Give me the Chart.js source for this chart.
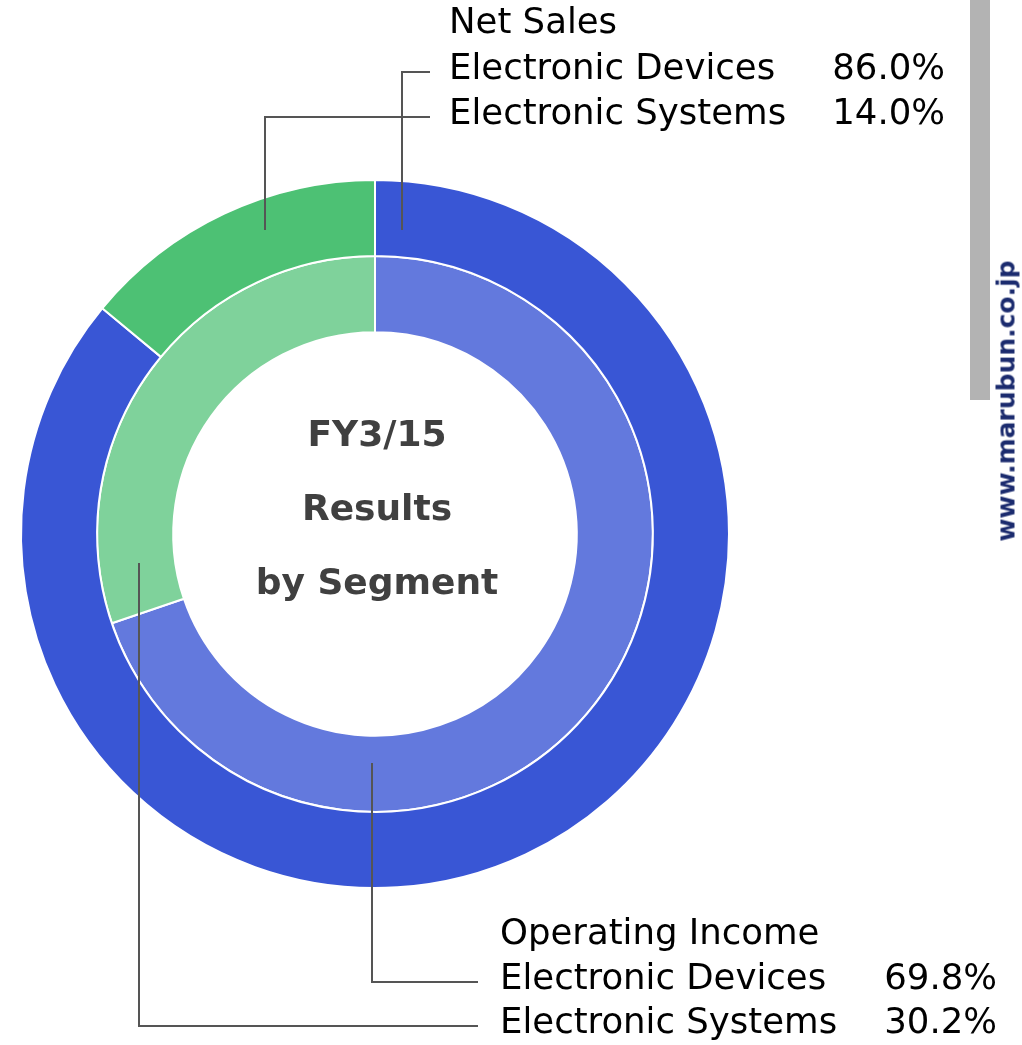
<!DOCTYPE html>
<html>
<head>
<meta charset="utf-8">
<script src="https://cdn.jsdelivr.net/npm/chart.js@4.4.1/dist/chart.umd.min.js"></script>
<style>
  html, body { margin: 0; padding: 0; background: #fff; }
  #wrap { position: relative; width: 1022px; height: 1045px; overflow: hidden; }
  #chart { position: absolute; left: 0; top: 0; }
  .bar { position: absolute; left: 970px; top: 0; width: 20px; height: 400px; background: #b3b3b3; }
  .site {
    position: absolute; left: 1006px; top: 401px;
    transform: translate(-50%, -50%) rotate(-90deg);
    font-family: 'DejaVu Sans', sans-serif; font-weight: bold; font-size: 25px;
    color: #1b2b6e; white-space: nowrap;
  }
</style>
</head>
<body>
<div id="wrap">
  <canvas id="chart" width="1022" height="1045"></canvas>
  <div class="bar"></div>
  <div class="site">www.marubun.co.jp</div>
</div>
<script>
// segments and shares (%)
const segments = ['Electronic Devices', 'Electronic Systems']
const netSales = [86.0, 14.0]
const operatingIncome = [69.8, 30.2]
const seriesNames = ['Net Sales', 'Operating Income']
const centerLines = ['FY3/15', 'Results', 'by Segment']

const outerColors = ['#3956d5', '#4dc174']
const innerColors = ['#6379dd', '#7fd29b']

const labelFont = "35.5px 'DejaVu Sans', sans-serif"

// callout blocks: where the text sits and the leader lines from each arc
const callouts = [
  {
    dataset: 0, title: seriesNames[0], values: netSales,
    textX: 449, pctRight: 945, rowY: [24, 70, 115],
    // leg: x offset from center of the vertical line, anchor y offset
    legs: [{ dx: 27, dy: -304 }, { dx: -110, dy: -304 }],
    lineEnd: 430,
  },
  {
    dataset: 1, title: seriesNames[1], values: operatingIncome,
    textX: 500, pctRight: 997, rowY: [935, 980, 1024],
    legs: [{ dx: -3, dy: 229 }, { dx: -236, dy: 29 }],
    lineEnd: 478,
  },
]

const calloutPlugin = {
  id: 'callouts',
  afterDraw(chart) {
    const ctx = chart.ctx
    const arc = chart.getDatasetMeta(0).data[0]
    const cx = arc.x
    const cy = arc.y

    ctx.save()
    // leader lines
    ctx.strokeStyle = '#555'
    ctx.lineWidth = 2
    callouts.forEach(c => {
      c.legs.forEach((leg, i) => {
        const y = c.rowY[i + 1] + 2
        ctx.beginPath()
        ctx.moveTo(cx + leg.dx, cy + leg.dy)
        ctx.lineTo(cx + leg.dx, y)
        ctx.lineTo(c.lineEnd, y)
        ctx.stroke()
      })
    })

    // texts
    ctx.fillStyle = '#000'
    ctx.font = labelFont
    ctx.textBaseline = 'middle'
    callouts.forEach(c => {
      ctx.textAlign = 'left'
      ctx.fillText(c.title, c.textX, c.rowY[0])
      segments.forEach((s, i) => {
        ctx.textAlign = 'left'
        ctx.fillText(s, c.textX, c.rowY[i + 1])
        ctx.textAlign = 'right'
        ctx.fillText(c.values[i].toFixed(1) + '%', c.pctRight, c.rowY[i + 1])
      })
    })

    // center title
    ctx.fillStyle = '#404040'
    ctx.font = "bold 36px 'DejaVu Sans', sans-serif"
    ctx.textAlign = 'center'
    centerLines.forEach((t, i) => {
      ctx.fillText(t, cx + 2, cy - 97 + i * 74)
    })
    ctx.restore()
  },
}

new Chart(document.getElementById('chart'), {
  type: 'doughnut',
  data: {
    labels: segments,
    datasets: [
      {
        label: seriesNames[0],
        data: netSales,
        backgroundColor: outerColors,
        borderColor: '#fff',
        borderWidth: 2,
      },
      {
        label: seriesNames[1],
        data: operatingIncome,
        backgroundColor: innerColors,
        borderColor: '#fff',
        borderWidth: 2,
      },
    ],
  },
  options: {
    responsive: false,
    animation: false,
    cutout: '57%',
    layout: { padding: { left: 20, top: 179, right: 292, bottom: 156 } },
    plugins: {
      legend: { display: false },
      tooltip: { enabled: false },
    },
  },
  plugins: [calloutPlugin],
})
</script>
</body>
</html>
